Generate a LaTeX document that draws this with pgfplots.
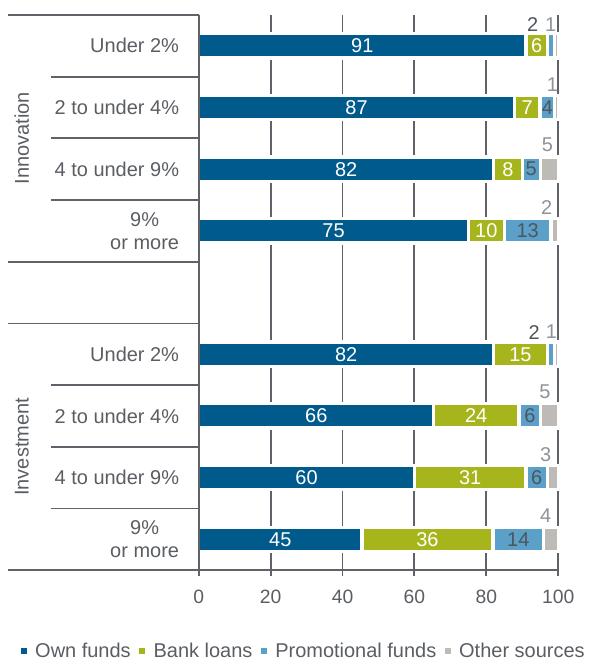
\documentclass[border=0pt]{standalone}
\usepackage{fontspec}
\setmainfont{Liberation Sans}
\usepackage{pgfplots}
\usepackage{pgfplotstable}
\pgfplotsset{compat=1.18}
\definecolor{cOwn}{HTML}{005A8C}
\definecolor{cBank}{HTML}{A6B51B}
\definecolor{cPromo}{HTML}{5AA0C8}
\definecolor{cOther}{HTML}{BEBAB6}
\definecolor{cAxis}{HTML}{5F6369}
\definecolor{cText}{HTML}{5A5E63}
\definecolor{cDark}{HTML}{4F555C}
\definecolor{cLight}{HTML}{8E9398}
\pgfplotstableread{
y own bank promo other total
1 91 6 2 1 100
2 87 7 4 1 99
3 82 8 5 5 100
4 75 10 13 2 100
6 82 15 2 1 100
7 66 24 6 5 101
8 60 31 6 3 100
9 45 36 14 4 99
}\data
\pgfplotsset{base/.style={width=270pt, height=417pt, scale only axis,
  xmin=0, xmax=100, ymin=0.5, ymax=9.5, y dir=reverse, clip=false}}
\begin{document}
\begin{tikzpicture}[
  inw/.style={text=white, font=\fontsize{15}{18}\selectfont, inner sep=0pt},
  ind/.style={text=cDark, font=\fontsize{15}{18}\selectfont, inner sep=0pt},
  abd/.style={text=cDark, font=\fontsize{15}{18}\selectfont, inner sep=0pt},
  abl/.style={text=cLight, font=\fontsize{15}{18}\selectfont, inner sep=0pt},
  cat/.style={text=cText, font=\fontsize{15}{17}\selectfont, anchor=east, align=center, inner sep=0pt},
  sep/.style={cAxis, line width=1.4pt}
]
\begin{axis}[
  base,
  xbar stacked, bar width=18.25pt,
  axis x line*=bottom, axis y line*=left,
  ytick=\empty,
  xtick={0,20,...,100},
  xmajorgrids, grid style={cAxis, line width=1.4pt},
  axis line style={cAxis, line width=1.4pt, -},
  tick style={cAxis, line width=1.4pt},
  major tick length=4.5pt, tick align=outside,
  /pgf/number format/assume math mode=true,
  xticklabel style={font=\fontsize{14.5}{17}\selectfont, text=cText, anchor=north, inner sep=0pt, yshift=-10.5pt},
  legend style={at={(axis description cs:0.289,-0.1457)}, anchor=center, draw=none, fill=none,
    legend columns=4, font=\fontsize{15}{18}\selectfont, text=cText,
    nodes={inner sep=0pt},
    /tikz/every even column/.append style={column sep=6.2pt},
    /tikz/every odd column/.append style={column sep=6.5pt}},
  legend image code/.code={\fill[#1, draw=none] (0pt,-2.25pt) rectangle (4.5pt,2.25pt);},
  every axis plot/.append style={draw=white, line width=2.5pt},
]
\addplot[fill=cOwn] table[x expr=\thisrow{own}*100/\thisrow{total}, y=y] {\data};
\addplot[fill=cBank] table[x expr=\thisrow{bank}*100/\thisrow{total}, y=y] {\data};
\addplot[fill=cPromo] table[x expr=\thisrow{promo}*100/\thisrow{total}, y=y] {\data};
\addplot[fill=cOther] table[x expr=\thisrow{other}*100/\thisrow{total}, y=y] {\data};
\legend{Own funds, Bank loans, Promotional funds, Other sources}
% bounding box
\path (axis description cs:-0.55278,1.02698) rectangle (axis description cs:1.08333,-0.16367);
\end{axis}
\begin{axis}[base, hide axis]
% left axis line on top
\draw[sep] (axis cs:0,0.5) -- (axis cs:0,9.5);
% separators
\draw[sep] (axis cs:-53.06,0.5) -- (axis cs:0,0.5);
\draw[sep] (axis cs:-41.11,1.5) -- (axis cs:0,1.5);
\draw[sep] (axis cs:-41.11,2.5) -- (axis cs:0,2.5);
\draw[sep] (axis cs:-41.11,3.5) -- (axis cs:0,3.5);
\draw[sep] (axis cs:-53.06,4.5) -- (axis cs:0,4.5);
\draw[sep] (axis cs:-53.06,5.5) -- (axis cs:0,5.5);
\draw[sep] (axis cs:-41.11,6.5) -- (axis cs:0,6.5);
\draw[sep] (axis cs:-41.11,7.5) -- (axis cs:0,7.5);
\draw[sep] (axis cs:-41.11,8.5) -- (axis cs:0,8.5);
\draw[sep] (axis cs:-53.06,9.5) -- (axis cs:0,9.5);
% group labels
\node[rotate=90, text=cText, font=\fontsize{15}{18}\selectfont] at (axis cs:-49.2,2.5) {Innovation};
\node[rotate=90, text=cText, font=\fontsize{15}{18}\selectfont] at (axis cs:-49.2,7.5) {Investment};
% category labels
\node[cat] at (axis cs:-5.4,1) {Under 2\%};
\node[cat] at (axis cs:-5.4,2) {2 to under 4\%};
\node[cat] at (axis cs:-5.4,3) {4 to under 9\%};
\node[cat] at (axis cs:-5.4,4) {9\%\\or more};
\node[cat] at (axis cs:-5.4,6) {Under 2\%};
\node[cat] at (axis cs:-5.4,7) {2 to under 4\%};
\node[cat] at (axis cs:-5.4,8) {4 to under 9\%};
\node[cat] at (axis cs:-5.4,9) {9\%\\or more};
% value labels
\node[inw] at (axis cs:45.5,1) {91};
\node[inw] at (axis cs:94,1) {6};
\node[abd] at (axis cs:92.9,0.66) {2};
\node[abl] at (axis cs:97.9,0.66) {1};
\node[inw] at (axis cs:43.9,2) {87};
\node[inw] at (axis cs:91.4,2) {7};
\node[ind] at (axis cs:97,2) {4};
\node[abl] at (axis cs:98.4,1.63) {1};
\node[inw] at (axis cs:41,3) {82};
\node[inw] at (axis cs:86,3) {8};
\node[ind] at (axis cs:92.5,3) {5};
\node[abl] at (axis cs:97,2.6) {5};
\node[inw] at (axis cs:37.5,4) {75};
\node[inw] at (axis cs:80,4) {10};
\node[ind] at (axis cs:91.5,4) {13};
\node[abl] at (axis cs:96.8,3.62) {2};
\node[inw] at (axis cs:41,6) {82};
\node[inw] at (axis cs:89.5,6) {15};
\node[abd] at (axis cs:93.3,5.64) {2};
\node[abl] at (axis cs:98.1,5.64) {1};
\node[inw] at (axis cs:32.7,7) {66};
\node[inw] at (axis cs:77.2,7) {24};
\node[ind] at (axis cs:92.1,7) {6};
\node[abl] at (axis cs:96.3,6.6) {5};
\node[inw] at (axis cs:30,8) {60};
\node[inw] at (axis cs:75.5,8) {31};
\node[ind] at (axis cs:94,8) {6};
\node[abl] at (axis cs:96.5,7.62) {3};
\node[inw] at (axis cs:22.7,9) {45};
\node[inw] at (axis cs:63.6,9) {36};
\node[ind] at (axis cs:88.9,9) {14};
\node[abl] at (axis cs:96.5,8.62) {4};
\end{axis}
\end{tikzpicture}
\end{document}
